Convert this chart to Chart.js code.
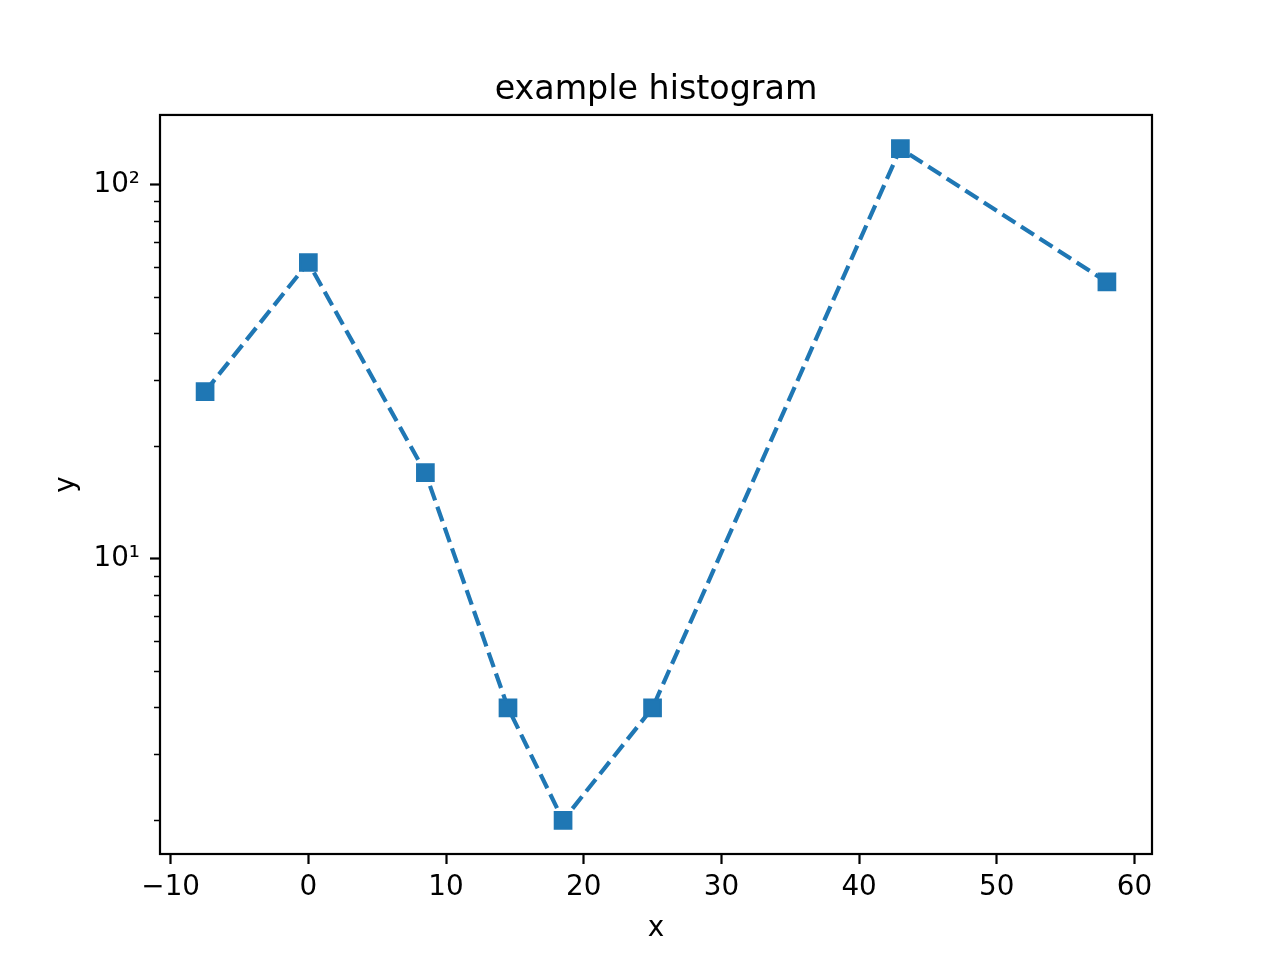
<!DOCTYPE html>
<html>
<head>
<meta charset="utf-8">
<script src="https://cdn.jsdelivr.net/npm/chart.js@4"></script>
<style>
  body { margin: 0; background: #fff; }
</style>
</head>
<body>
<canvas id="myChart" width="1280" height="960"></canvas>
<script>
// data
var xValues = [-7.5, 0, 8.5, 14.5, 18.5, 25, 43, 58];
var yValues = [28, 62, 17, 4, 2, 4, 125, 55];
var xTicks = [-10, 0, 10, 20, 30, 40, 50, 60];
var yTicks = [2, 3, 4, 5, 6, 7, 8, 9, 10, 20, 30, 40, 50, 60, 70, 80, 90, 100];
var yMajor = [10, 100];
var yLabels = { 10: '10\u00b9', 100: '10\u00b2' };

// axis limits with 5% margins like matplotlib
var xSpan = Math.max.apply(null, xValues) - Math.min.apply(null, xValues);
var xMin = Math.min.apply(null, xValues) - 0.05 * xSpan;
var xMax = Math.max.apply(null, xValues) + 0.05 * xSpan;
var lyMin = Math.log10(Math.min.apply(null, yValues));
var lyMax = Math.log10(Math.max.apply(null, yValues));
var yMin = Math.pow(10, lyMin - 0.05 * (lyMax - lyMin));
var yMax = Math.pow(10, lyMax + 0.05 * (lyMax - lyMin));

var points = xValues.map(function(x, i) { return { x: x, y: yValues[i] }; });

Chart.defaults.font.family = "'DejaVu Sans', sans-serif";
Chart.defaults.color = '#000';

// box round the plot area (all four spines)
var frame = {
	id: 'frame',
	afterDraw: function(chart) {
		var a = chart.chartArea, ctx = chart.ctx;
		ctx.save();
		ctx.strokeStyle = '#000';
		ctx.lineWidth = 2.2;
		ctx.strokeRect(a.left, a.top, a.right - a.left, a.bottom - a.top);
		ctx.restore();
	}
};

function isMajor(c) {
	return c.tick && yMajor.indexOf(c.tick.value) >= 0;
}

var ctx = document.getElementById('myChart');
var myChart = new Chart(ctx, {
	type: 'line',
	data: {
		datasets: [{
			data: points,
			borderColor: '#1f77b4',
			backgroundColor: '#1f77b4',
			borderWidth: 4.2,
			borderDash: [15.4, 6.7],
			tension: 0,
			fill: false,
			pointStyle: 'rect',
			pointRadius: 11.8,
			pointBorderWidth: 2,
			pointBorderColor: '#1f77b4',
			pointBackgroundColor: '#1f77b4'
		}]
	},
	plugins: [frame],
	options: {
		responsive: false,
		animation: false,
		devicePixelRatio: 1,
		layout: { padding: { left: 32, top: 0, right: 0, bottom: 0 } },
		plugins: {
			legend: { display: false },
			tooltip: { enabled: false },
			title: {
				display: true,
				text: 'example histogram',
				color: '#000',
				font: { size: 33.3, weight: 'normal' },
				padding: { top: 70, bottom: 5 }
			}
		},
		scales: {
			x: {
				type: 'linear',
				min: xMin,
				max: xMax,
				afterBuildTicks: function(scale) {
					scale.ticks = xTicks.map(function(v) { return { value: v }; });
				},
				afterFit: function(scale) { scale.height = 106; },
				border: { display: false },
				grid: {
					drawOnChartArea: false,
					tickLength: 10,
					tickWidth: 2.2,
					tickColor: '#000'
				},
				ticks: {
					padding: 7,
					maxRotation: 0,
					font: { size: 27.8 },
					callback: function(v) {
						return v < 0 ? '\u2212' + Math.abs(v) : String(v);
					}
				},
				title: {
					display: true,
					text: 'x',
					font: { size: 27.8 },
					padding: { top: 0, bottom: 15 }
				}
			},
			y: {
				type: 'logarithmic',
				min: yMin,
				max: yMax,
				afterBuildTicks: function(scale) {
					scale.ticks = yTicks.map(function(v) { return { value: v }; });
				},
				afterFit: function(scale) { scale.width = 128; },
				border: { display: false },
				grid: {
					drawOnChartArea: false,
					tickLength: 10,
					tickColor: '#000',
					tickWidth: function(c) { return isMajor(c) ? 2.2 : 1.7; },
					tickBorderDash: function(c) { return isMajor(c) ? [] : [0, 4, 6, 20]; }
				},
				ticks: {
					padding: 10,
					autoSkip: false,
					font: { size: 27.8 },
					callback: function(v) {
						return yLabels[v] || '';
					}
				},
				title: {
					display: true,
					text: 'y',
					font: { size: 27.8 },
					padding: { top: 18, bottom: 0 }
				}
			},
			// empty right-hand band so the plot area ends where matplotlib's does
			yRight: {
				position: 'right',
				type: 'linear',
				afterFit: function(scale) { scale.width = 128; },
				border: { display: false },
				grid: { display: false },
				ticks: { display: false }
			}
		}
	}
});
</script>
</body>
</html>
